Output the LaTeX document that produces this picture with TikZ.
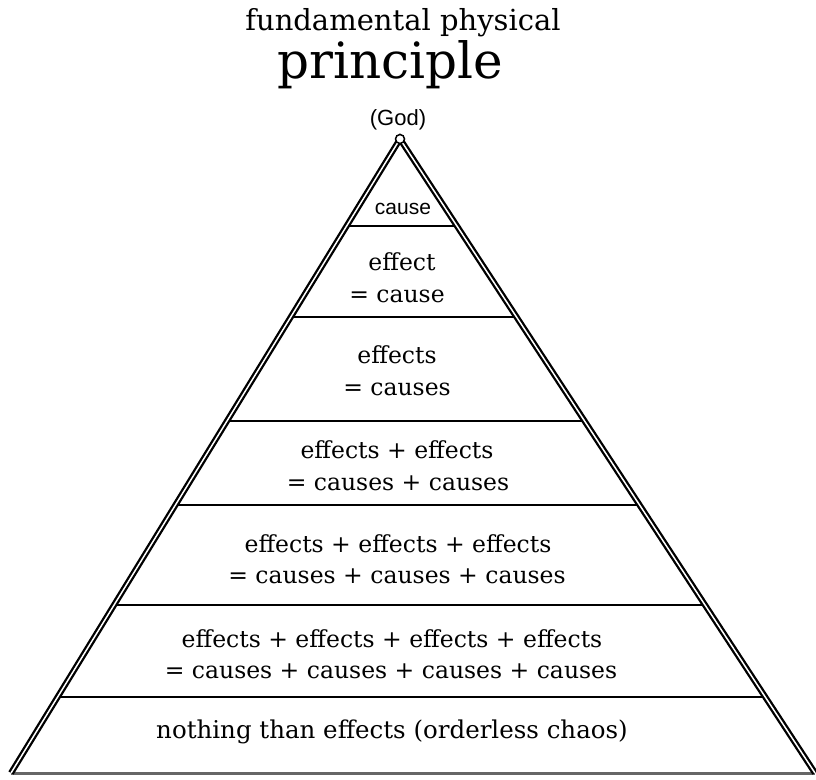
\documentclass[tikz,border=0pt]{standalone}
\usepackage{fontspec}
\setmainfont{DejaVu Serif}
\newfontfamily\godfont{Liberation Sans}
\usetikzlibrary{calc}
\tikzset{
  layer/.style={inner sep=0pt, anchor=base, font=\fontsize{23.5}{28}\selectfont},
  divider/.style={line width=1.8pt},
}
\begin{document}
\begin{tikzpicture}[x=1pt,y=-1pt]
    \useasboundingbox (0,0) rectangle (816,779);
    \coordinate (apex) at (400,139);
    \coordinate (bl) at (11,773);
    \coordinate (br) at (815,773);

    % floors of the pyramid
    \foreach \h in {226,317,421,505,605,697}
        \draw[divider] ($(apex)!{(\h-139)/634}!(bl)$) -- ($(apex)!{(\h-139)/634}!(br)$);
    \draw[line width=3pt, black!60] (bl) -- (br);
    \draw[line width=2.3pt, double distance=1.5pt] (bl) -- (apex) -- (br);
    \draw[fill=white, line width=1.5pt] (apex) circle [radius=4.5pt];

    \node[inner sep=0pt, anchor=base, font=\fontsize{29}{31}\selectfont] (title) at (403,30) {fundamental physical};
    \node[inner sep=0pt, anchor=base, font=\fontsize{50}{52}\selectfont] (principle) at (390,78) {principle};
    \node[inner sep=0pt, anchor=base, font=\godfont\fontsize{22}{24}\selectfont] (god) at (398,125) {(God)};
    \node[inner sep=0pt, anchor=base, font=\godfont\fontsize{21}{23}\selectfont] (cause) at (403,214) {cause};

    \node[layer] (one) at (402,270) {effect};
    \node[layer] (oneb) at (397,302) {= cause};
    \node[layer] (two) at (397,363) {effects};
    \node[layer] (twob) at (397,395) {= causes};
    \node[layer] (three) at (397,458) {effects + effects};
    \node[layer] (threeb) at (398,490) {= causes + causes};
    \node[layer] (four) at (398,552) {effects + effects + effects};
    \node[layer] (fourb) at (397,583) {= causes + causes + causes};
    \node[layer] (five) at (392,647) {effects + effects + effects + effects};
    \node[layer] (fiveb) at (391,678) {= causes + causes + causes + causes};
    \node[layer, font=\fontsize{24.5}{28}\selectfont] (chaos) at (392,738) {nothing than effects (orderless chaos)};
\end{tikzpicture}
\end{document}
